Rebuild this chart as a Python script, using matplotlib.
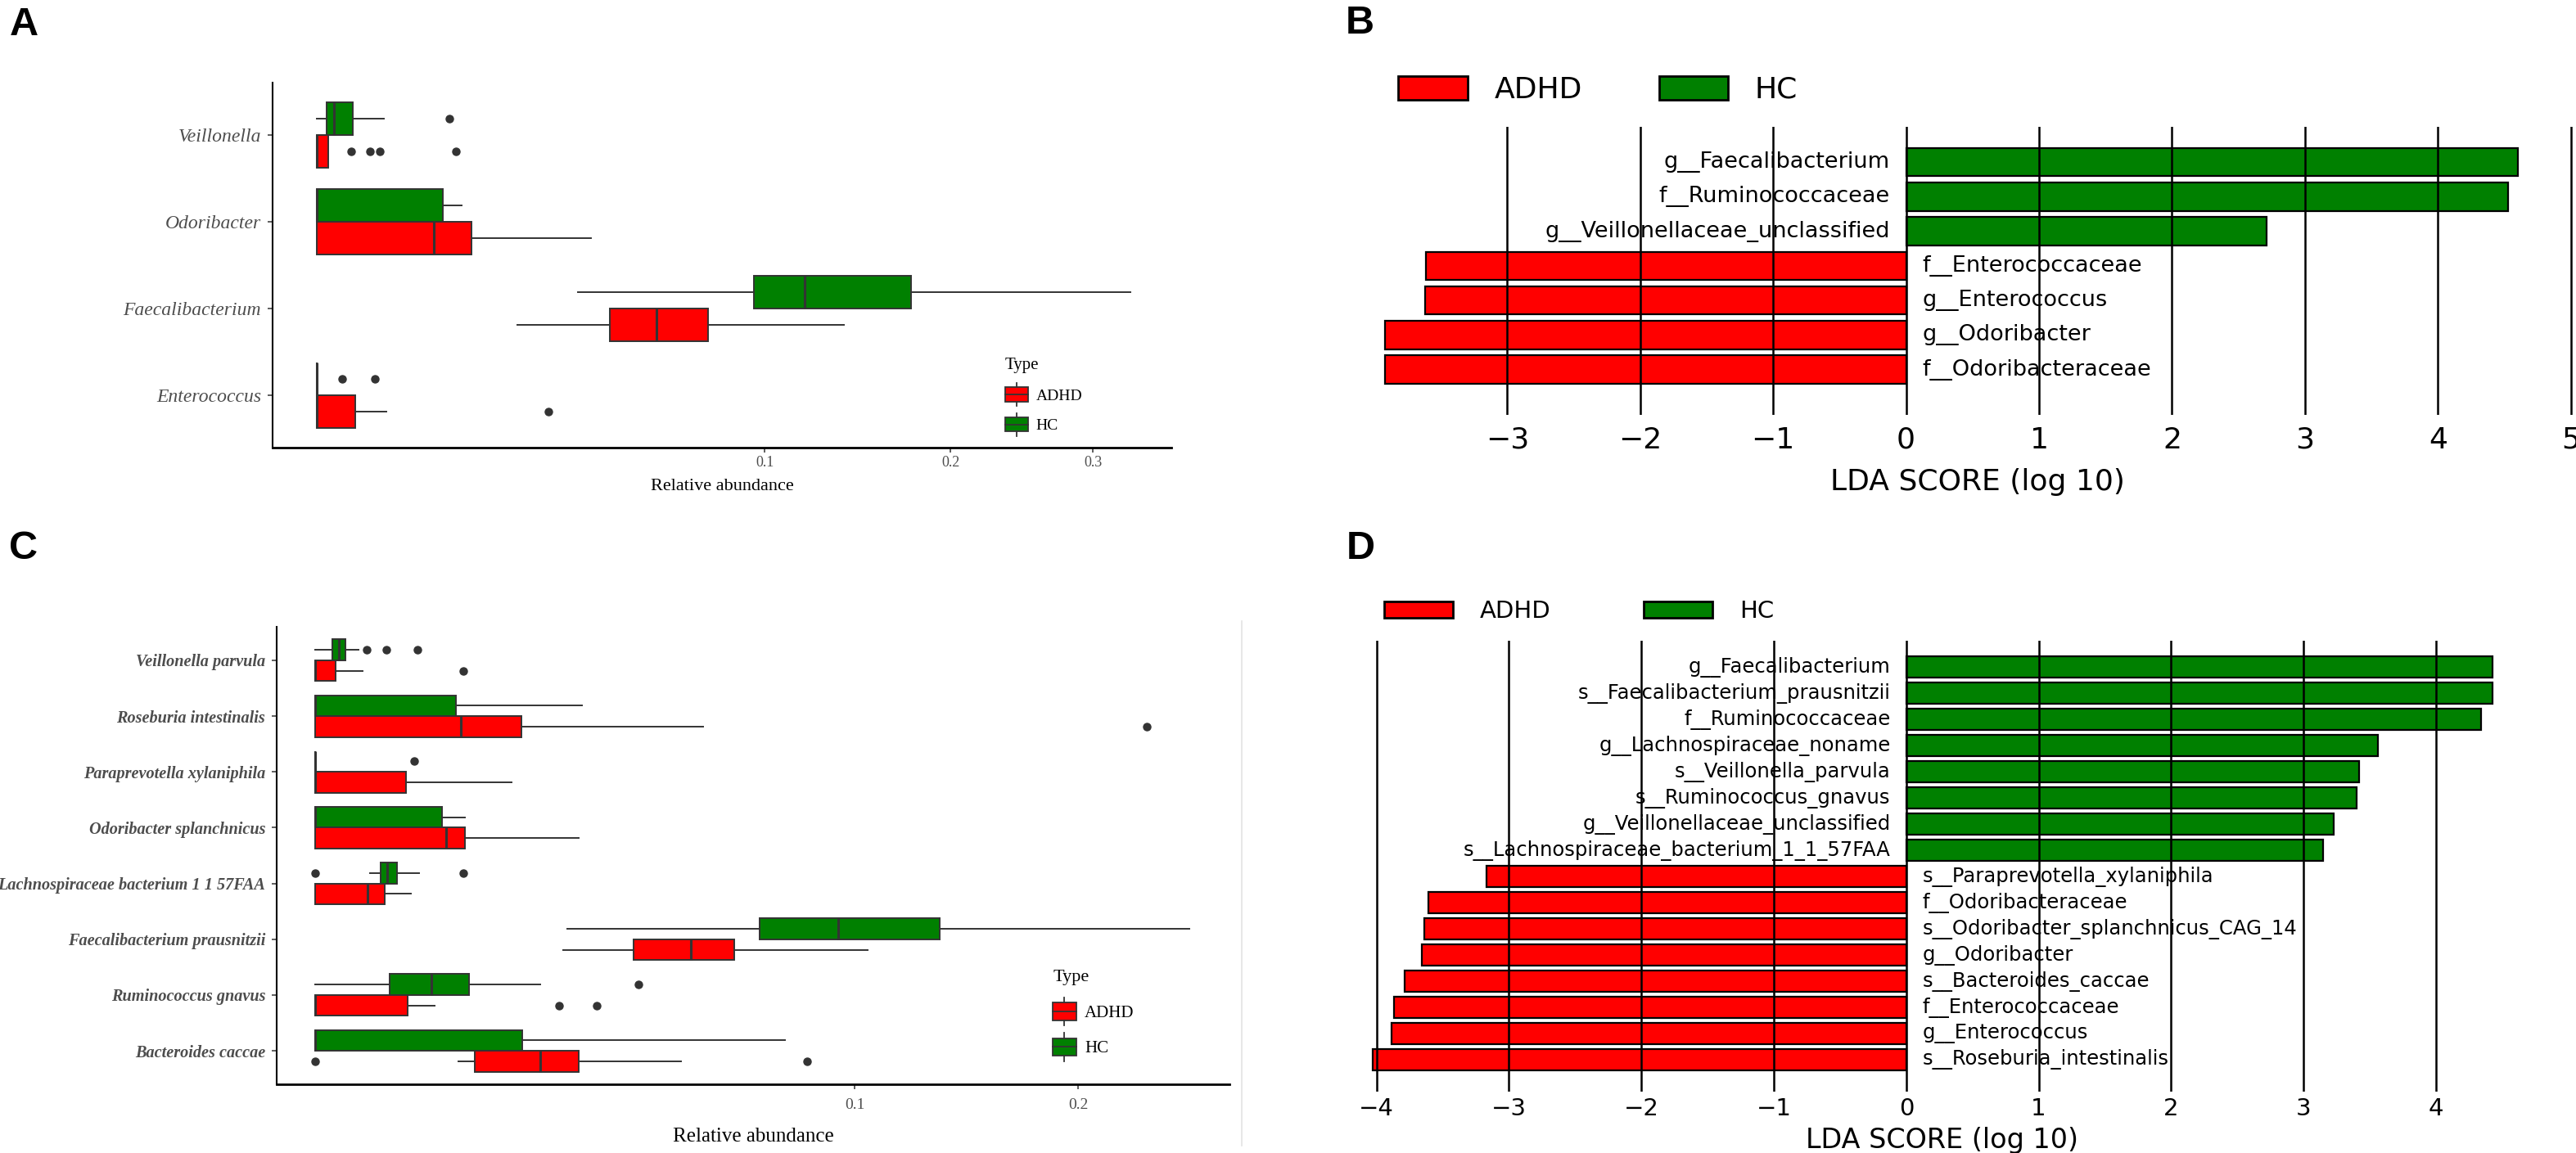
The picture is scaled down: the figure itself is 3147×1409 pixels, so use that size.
"""
Four-panel figure: relative abundance box plots (A, C) and LEfSe LDA
score bar charts (B, D) for ADHD vs HC.
"""

import matplotlib
matplotlib.use("Agg")
import matplotlib.pyplot as plt
import numpy as np
from matplotlib.legend_handler import HandlerBase
from matplotlib.lines import Line2D
from matplotlib.patches import Patch, Rectangle

W, H = 3147, 1409
DPI = 100

RED = "#FF0000"
GREEN = "#008000"
EDGE = "#333333"
TICKTXT = "#4d4d4d"
SERIF = "Liberation Serif"
SANS = "DejaVu Sans"

# ----------------------------------------------------------------------------
# Data (box stats are [whisker low, q1, median, q3, whisker high])
# ----------------------------------------------------------------------------
A_TAXA = ["Veillonella", "Odoribacter", "Faecalibacterium", "Enterococcus"]
A_HC_STATS = [
    [0.0, 4.8e-5, 1.46e-4, 6.4e-4, 2.23e-3],
    [0.0, 0.0, 0.0, 7.96e-3, 1.05e-2],
    [0.034, 0.0951, 0.1184, 0.1757, 0.330],
    [0.0, 0.0, 0.0, 0.0, 0.0],
]
A_HC_FLIERS = [[8.8e-3], [], [], [3.3e-4, 1.69e-3]]
A_ADHD_STATS = [
    [0.0, 0.0, 0.0, 6.5e-5, 6.5e-5],
    [0.0, 0.0, 6.87e-3, 1.196e-2, 3.755e-2],
    [0.020, 0.0428, 0.0574, 0.0764, 0.1382],
    [0.0, 0.0, 0.0, 7.5e-4, 2.39e-3],
]
A_ADHD_FLIERS = [[5.8e-4, 1.4e-3, 1.97e-3, 9.69e-3], [], [], [0.0267]]
A_TICKS = [0.1, 0.2, 0.3]

C_TAXA = ["Veillonella parvula", "Roseburia intestinalis",
          "Paraprevotella xylaniphila", "Odoribacter splanchnicus",
          "Lachnospiraceae bacterium 1 1 57FAA", "Faecalibacterium prausnitzii",
          "Ruminococcus gnavus", "Bacteroides caccae"]
C_HC_STATS = [
    [0.0, 1.02e-4, 1.94e-4, 3.16e-4, 6.49e-4],
    [0.0, 0.0, 0.0, 6.83e-3, 2.44e-2],
    [0.0, 0.0, 0.0, 0.0, 0.0],
    [0.0, 0.0, 0.0, 5.55e-3, 7.73e-3],
    [1.04e-3, 1.48e-3, 1.79e-3, 2.31e-3, 3.73e-3],
    [0.0219, 0.0678, 0.0940, 0.1341, 0.2624],
    [0.0, 1.91e-3, 4.66e-3, 8.16e-3, 1.746e-2],
    [0.0, 0.0, 0.0, 1.478e-2, 7.58e-2],
]
C_HC_FLIERS = [[9.2e-4, 1.75e-3, 3.61e-3], [], [3.38e-3], [],
               [0.0, 7.57e-3], [], [3.60e-2], []]
C_ADHD_STATS = [
    [0.0, 0.0, 0.0, 1.44e-4, 7.77e-4],
    [0.0, 0.0, 7.32e-3, 1.466e-2, 5.17e-2],
    [0.0, 0.0, 0.0, 2.85e-3, 1.33e-2],
    [0.0, 0.0, 5.91e-3, 7.73e-3, 2.38e-2],
    [0.0, 0.0, 9.46e-4, 1.668e-3, 3.16e-3],
    [0.0212, 0.0349, 0.0484, 0.0603, 0.1049],
    [0.0, 0.0, 0.0, 2.95e-3, 4.92e-3],
    [7.07e-3, 8.78e-3, 1.746e-2, 2.394e-2, 4.59e-2],
]
C_ADHD_FLIERS = [[7.57e-3], [0.2379], [], [], [], [],
                 [2.05e-2, 2.73e-2], [0.0, 8.31e-2]]
C_TICKS = [0.1, 0.2]

B_FEATURES = ["g__Faecalibacterium", "f__Ruminococcaceae",
              "g__Veillonellaceae_unclassified", "f__Enterococcaceae",
              "g__Enterococcus", "g__Odoribacter", "f__Odoribacteraceae"]
B_LDA = [4.60, 4.53, 2.71, -3.61, -3.62, -3.92, -3.92]
B_TICKS = [-3, -2, -1, 0, 1, 2, 3, 4, 5]

D_FEATURES = ["g__Faecalibacterium", "s__Faecalibacterium_prausnitzii",
              "f__Ruminococcaceae", "g__Lachnospiraceae_noname",
              "s__Veillonella_parvula", "s__Ruminococcus_gnavus",
              "g__Veillonellaceae_unclassified",
              "s__Lachnospiraceae_bacterium_1_1_57FAA",
              "s__Paraprevotella_xylaniphila", "f__Odoribacteraceae",
              "s__Odoribacter_splanchnicus_CAG_14", "g__Odoribacter",
              "s__Bacteroides_caccae", "f__Enterococcaceae",
              "g__Enterococcus", "s__Roseburia_intestinalis"]
D_LDA = [4.43, 4.425, 4.34, 3.56, 3.42, 3.40, 3.23, 3.15,
         -3.17, -3.61, -3.64, -3.66, -3.79, -3.87, -3.89, -4.03]
D_TICKS = [-4, -3, -2, -1, 0, 1, 2, 3, 4]

GROUPS = ["ADHD", "HC"]


# ----------------------------------------------------------------------------
# helpers
# ----------------------------------------------------------------------------
def px_axes(fig, left, top, right, bottom):
    """Add axes from pixel box (origin top-left)."""
    return fig.add_axes([left / W, 1 - bottom / H, (right - left) / W,
                         (bottom - top) / H])


def sqrt_fwd(x):
    x = np.asarray(x, dtype=float)
    return np.sign(x) * np.sqrt(np.abs(x))


def sqrt_inv(y):
    y = np.asarray(y, dtype=float)
    return np.sign(y) * y ** 2


class BoxKey(HandlerBase):
    """ggplot-like boxplot legend key."""

    def create_artists(self, legend, orig_handle, xdescent, ydescent,
                       width, height, fontsize, trans):
        x0, y0 = -xdescent, -ydescent
        xm = x0 + width / 2
        box = Rectangle((x0, y0), width, height,
                        facecolor=orig_handle.get_facecolor(),
                        edgecolor=EDGE, lw=1.3, transform=trans)
        med = Line2D([x0, x0 + width], [y0 + height / 2] * 2,
                     color=EDGE, lw=1.3, transform=trans)
        top = Line2D([xm, xm], [y0 + height, y0 + 1.3 * height],
                     color=EDGE, lw=1.3, transform=trans)
        bot = Line2D([xm, xm], [y0 - 0.3 * height, y0],
                     color=EDGE, lw=1.3, transform=trans)
        return [box, med, top, bot]


def box_panel(ax, taxa, hc, hc_fl, adhd, adhd_fl, xlim, ticks,
              label_style, label_size, tick_size, xlab_size, pads, leg):
    n = len(taxa)
    base = np.arange(n, 0, -1).astype(float)
    ax.set_xscale("function", functions=(sqrt_fwd, sqrt_inv))
    for rows, fl, col, off in [(hc, hc_fl, GREEN, 0.1875),
                               (adhd, adhd_fl, RED, -0.1875)]:
        st = [dict(label=t, whislo=r[0], q1=r[1], med=r[2], q3=r[3],
                   whishi=r[4], fliers=f) for t, r, f in zip(taxa, rows, fl)]
        ax.bxp(st, positions=base + off, widths=0.375,
               orientation="horizontal", patch_artist=True, showcaps=False,
               boxprops=dict(facecolor=col, edgecolor=EDGE, lw=1.4),
               medianprops=dict(color=EDGE, lw=2.2, solid_capstyle="butt"),
               whiskerprops=dict(color=EDGE, lw=1.4),
               flierprops=dict(marker="o", markerfacecolor=EDGE,
                               markeredgecolor=EDGE, markersize=6.5),
               manage_ticks=False)
    ax.set_xlim(*xlim)
    ax.set_ylim(0.4, n + 0.6)
    ax.set_yticks(base)
    ax.set_yticklabels(taxa, family=SERIF, size=label_size, color=TICKTXT,
                       **label_style)
    ax.set_xticks(ticks)
    ax.set_xticklabels([f"{t:g}" for t in ticks], family=SERIF,
                       size=tick_size, color=TICKTXT)
    ax.minorticks_off()
    ax.tick_params(axis="both", length=4, width=1.1, color=EDGE)
    ax.tick_params(axis="y", pad=6)
    ax.tick_params(axis="x", pad=pads[0])
    ax.set_xlabel("Relative abundance", family=SERIF, size=xlab_size,
                  labelpad=pads[1])
    for s in ("top", "right"):
        ax.spines[s].set_visible(False)
    ax.spines["left"].set_linewidth(1.5)
    ax.spines["bottom"].set_linewidth(2.0)

    handles = [Patch(facecolor=RED), Patch(facecolor=GREEN)]
    lg = ax.legend(handles, GROUPS, handler_map={Patch: BoxKey()},
                   title="Type", loc="upper left",
                   bbox_to_anchor=(leg["x"] / W, 1 - leg["y"] / H),
                   bbox_transform=ax.figure.transFigure, frameon=False,
                   borderpad=0, alignment="left",
                   prop=dict(family=SERIF, size=leg["size"]),
                   title_fontproperties=dict(family=SERIF,
                                             size=leg["tsize"]),
                   handlelength=leg["hl"], handleheight=leg["hh"],
                   labelspacing=leg["ls"], handletextpad=0.5)
    return lg


def lda_panel(ax, feats, scores, xlim, ticks, lab_size, tick_size,
              xlab_size, tick_pad, xlab_pad, leg):
    n = len(feats)
    pos = np.arange(n)[::-1]
    colors = [GREEN if s > 0 else RED for s in scores]
    ax.barh(pos, scores, height=0.82, color=colors, edgecolor="black",
            lw=1.6, zorder=1)
    for p, f, s in zip(pos, feats, scores):
        if s > 0:
            ax.text(-0.12, p, f, ha="right", va="center", family=SANS,
                    size=lab_size)
        else:
            ax.text(0.12, p, f, ha="left", va="center", family=SANS,
                    size=lab_size)
    ax.set_xlim(*xlim)
    ax.set_ylim(leg["ylim"])
    ax.set_xticks(ticks)
    ax.set_yticks([])
    ax.grid(axis="x", color="black", lw=1.8)
    ax.set_axisbelow(False)
    ax.tick_params(axis="x", length=0, labelsize=tick_size, pad=tick_pad)
    for lbl in ax.get_xticklabels():
        lbl.set_family(SANS)
    ax.set_xlabel("LDA SCORE (log 10)", family=SANS, size=xlab_size,
                  labelpad=xlab_pad)
    for s in ax.spines.values():
        s.set_visible(False)

    handles = [Patch(facecolor=RED, edgecolor="black", lw=2.0),
               Patch(facecolor=GREEN, edgecolor="black", lw=2.0)]
    ax.legend(handles, GROUPS, loc="center left",
              bbox_to_anchor=(leg["x"] / W, 1 - leg["y"] / H),
              bbox_transform=ax.figure.transFigure, frameon=False, ncol=2,
              borderpad=0, borderaxespad=0,
              prop=dict(family=SANS, size=leg["size"]),
              handlelength=leg["hl"], handleheight=leg["hh"],
              handletextpad=leg["tp"], columnspacing=leg["cs"])


def main():
    fig = plt.figure(figsize=(W / DPI, H / DPI), dpi=DPI)
    fig.patch.set_facecolor("white")

    # A
    ax_a = px_axes(fig, 333, 101, 1431, 547)
    box_panel(ax_a, A_TAXA, A_HC_STATS, A_HC_FLIERS, A_ADHD_STATS,
              A_ADHD_FLIERS, (-9.7e-4, 0.3637), A_TICKS,
              dict(style="italic"), 17, 13, 16, (3, 8),
              dict(x=1218, y=427, size=14, tsize=15, hl=1.45, hh=1.0,
                   ls=0.9))

    # C
    ax_c = px_axes(fig, 338, 766, 1502, 1325)
    box_panel(ax_c, C_TAXA, C_HC_STATS, C_HC_FLIERS, C_ADHD_STATS,
              C_ADHD_FLIERS, (-5.1e-4, 0.2873), C_TICKS,
              dict(style="italic", weight="bold"), 14.6, 14, 18, (8, 14),
              dict(x=1276, y=1175, size=15, tsize=16, hl=1.35, hh=1.2,
                   ls=1.0))
    fig.add_artist(Line2D([1517 / W] * 2, [1 - 759 / H, 1 - 1400 / H],
                          transform=fig.transFigure, color="#e3e3e3",
                          lw=1.2))

    # B
    ax_b = px_axes(fig, 1687, 155, 3144, 507)
    lda_panel(ax_b, B_FEATURES, B_LDA, (-3.95, 5.02), B_TICKS,
              19.5, 26, 26, 10, 12,
              dict(x=1708, y=110, size=26, hl=2.35, hh=0.83, tp=0.9,
                   cs=2.6, ylim=(-1.31, 7.02)))

    # D
    ax_d = px_axes(fig, 1672, 783, 3073, 1334)
    lda_panel(ax_d, D_FEATURES, D_LDA, (-4.06, 4.6), D_TICKS,
              17.5, 21, 24, 5, 6,
              dict(x=1691, y=747, size=21, hl=2.88, hh=0.68, tp=1.13,
                   cs=3.9, ylim=(-1.22, 16.01)))

    # panel letters
    for letter, x, y in [("A", 12, 43), ("B", 1644, 41), ("C", 11, 683),
                         ("D", 1645, 683)]:
        fig.text(x / W, 1 - y / H, letter, family="Liberation Sans",
                 weight="bold", size=35, va="baseline", ha="left")

    fig.savefig("out.png", dpi=DPI, facecolor="white")
    plt.close(fig)


if __name__ == "__main__":
    main()
